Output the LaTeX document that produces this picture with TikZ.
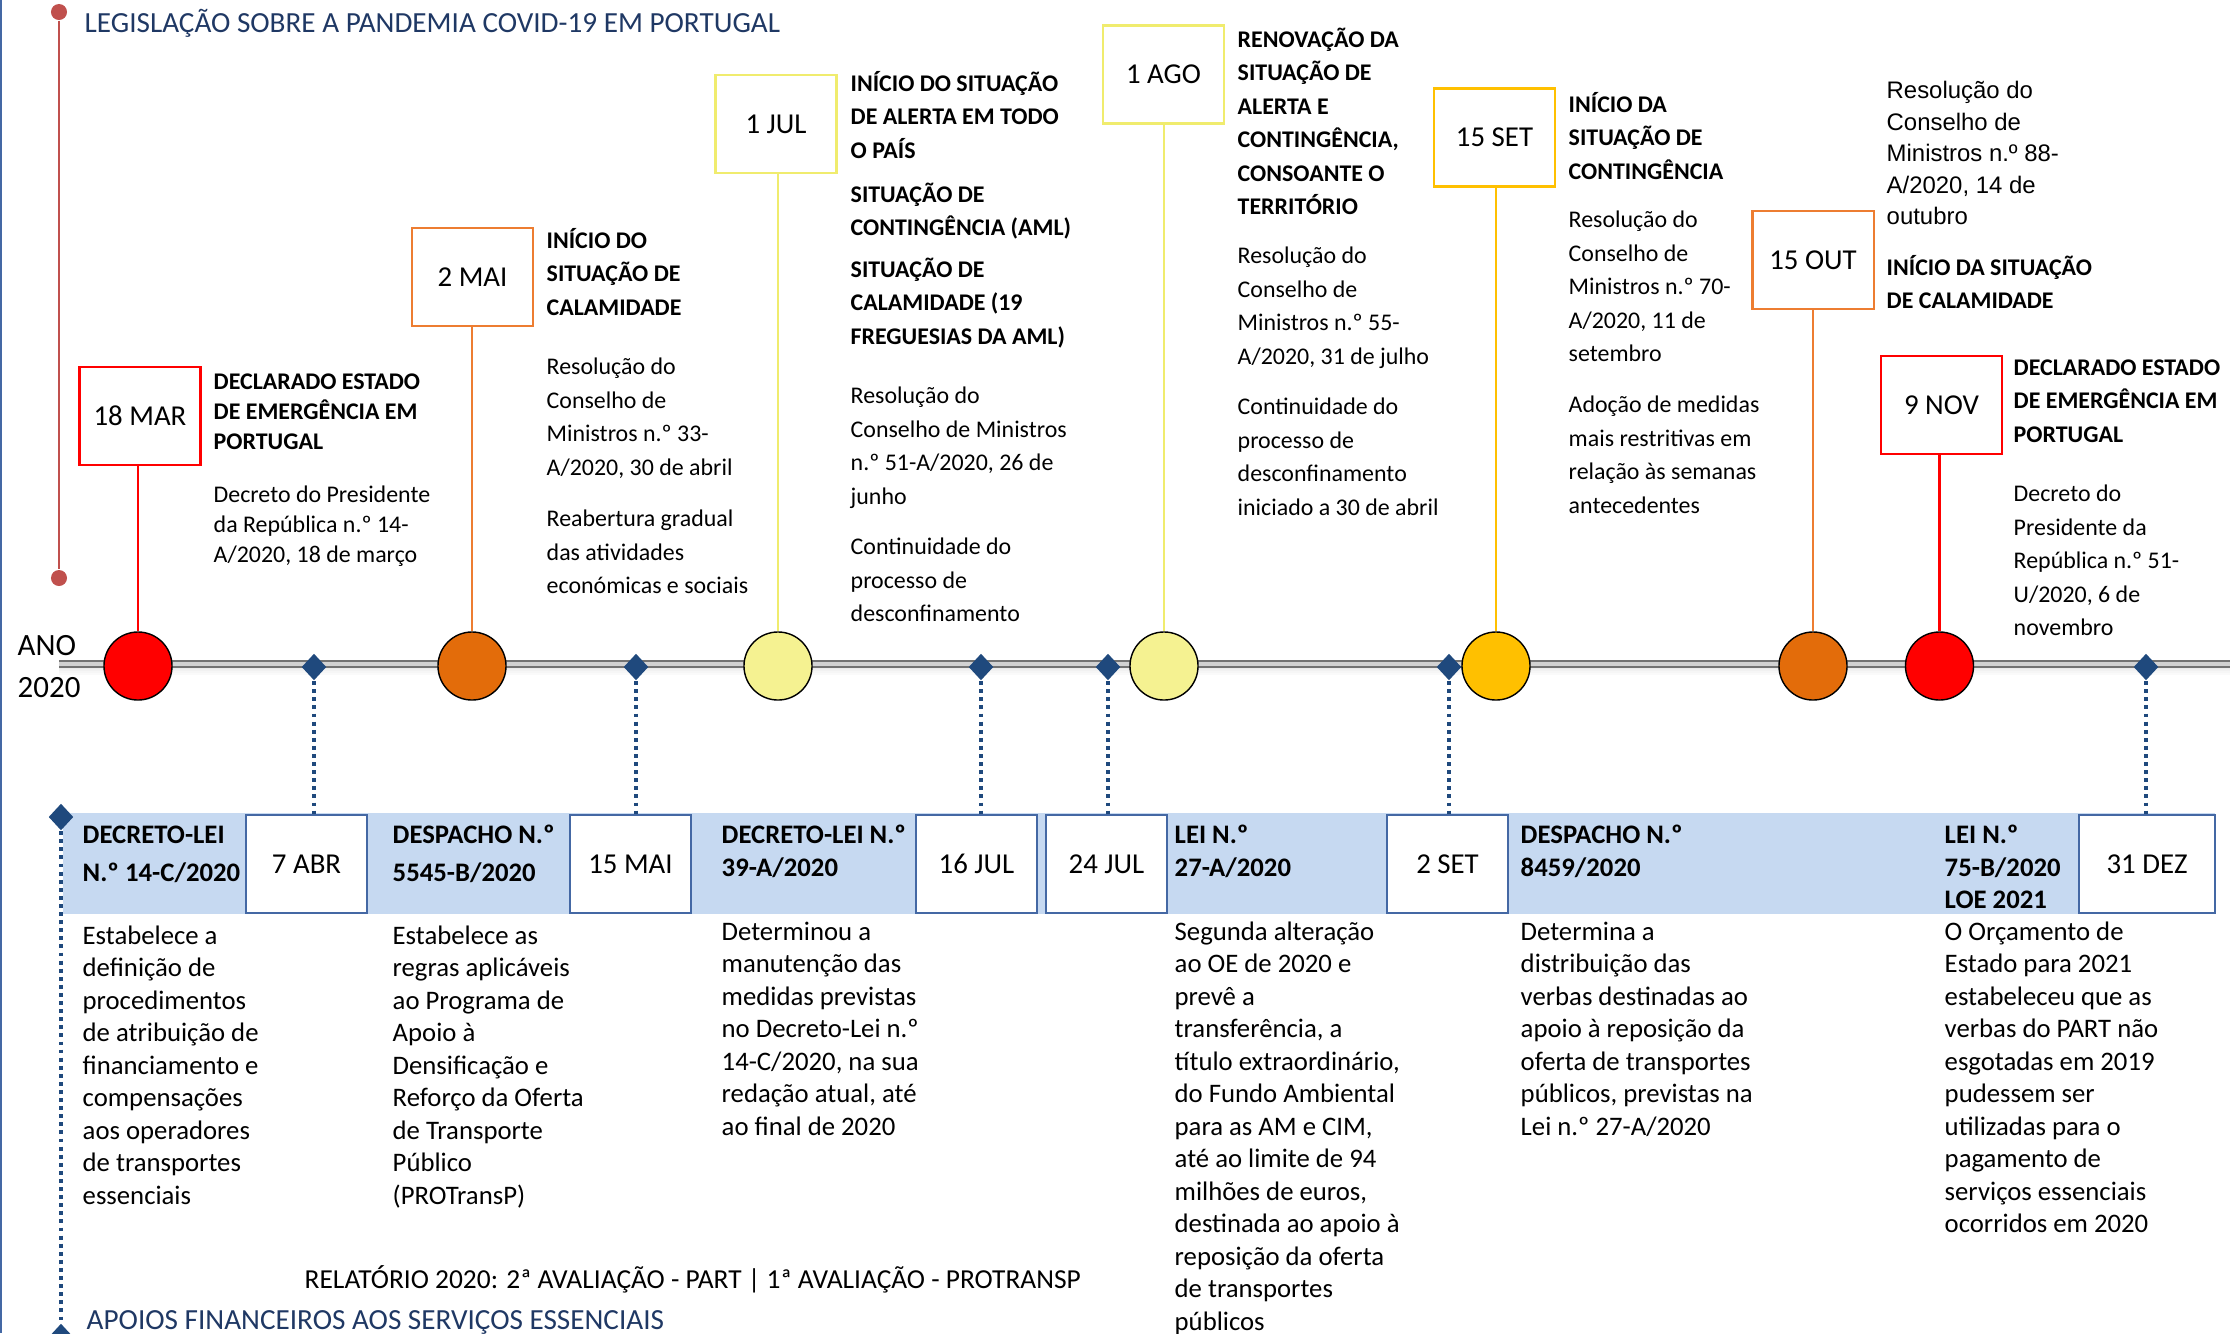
\documentclass[tikz,border=0pt]{standalone}
\usepackage{fontspec}
\setmainfont{Carlito}
\newfontfamily\arialfont{Liberation Sans}
\usetikzlibrary{shapes.geometric,shadows}

\definecolor{titleblue}{RGB}{31,56,100}
\definecolor{dblue}{RGB}{31,73,125}
\definecolor{bandblue}{RGB}{198,217,241}
\definecolor{boxblue}{RGB}{68,104,164}
\definecolor{lred}{RGB}{192,80,77}
\definecolor{cred}{RGB}{255,0,0}
\definecolor{corange}{RGB}{227,108,10}
\definecolor{borange}{RGB}{237,125,49}
\definecolor{cyellow}{RGB}{245,242,145}
\definecolor{byellow}{RGB}{240,236,110}
\definecolor{camber}{RGB}{255,192,0}

% linhas de texto com a base na primeira linha
\newcommand\textrows[1]{\vtop{\let\\\cr\halign{##\hfil\cr#1\crcr}}}

\begin{document}
\begin{tikzpicture}[x=0.01cm,y=-0.01cm,
        datebox/.style={draw=#1,fill=white,line width=0.6pt,minimum width=1.21cm,minimum height=0.98cm,inner sep=0pt,
            font=\fontsize{8.2}{9}\selectfont,drop shadow={shadow xshift=0.4pt,shadow yshift=-0.4pt,opacity=0.3,fill=black!40}},
        lowbox/.style={draw=boxblue,fill=white,line width=0.45pt,minimum width=1.21cm,minimum height=0.98cm,inner sep=0pt,
            font=\fontsize{8.2}{9}\selectfont},
        dot/.style={circle,draw=black,line width=0.4pt,fill=#1,minimum size=0.68cm,inner sep=0pt},
        lozenge/.style={diamond,fill=dblue,minimum width=0.25cm,minimum height=0.27cm,inner sep=0pt},
        hd/.style={anchor=base west,inner sep=0pt,font=\fontsize{6.8}{9.53}\selectfont\bfseries},
        tx/.style={anchor=base west,inner sep=0pt,font=\fontsize{6.8}{9.53}\selectfont},
        lhd/.style={anchor=base west,inner sep=0pt,font=\fontsize{7.6}{9.25}\selectfont\bfseries},
        ltx/.style={anchor=base west,inner sep=0pt,font=\fontsize{7.6}{9.25}\selectfont},
        dots/.style={draw=dblue,line width=1.1pt,dash pattern=on 1.1pt off 1.2pt}
    ]
    \useasboundingbox (0,0) rectangle (2230,1333);
    \draw[boxblue,line width=0.45pt] (0.8,0) -- (0.8,1333);

    % titulos
    \node[anchor=base west,inner sep=0pt,text=titleblue,font=\fontsize{8.3}{10}\selectfont] (title) at (84,32)
        {LEGISLAÇÃO SOBRE A PANDEMIA COVID-19 EM PORTUGAL};
    \node[anchor=base west,inner sep=0pt,text=titleblue,font=\fontsize{8.3}{10}\selectfont] (apoios) at (86,1329)
        {APOIOS FINANCEIROS AOS SERVIÇOS ESSENCIAIS};
    \node[anchor=base west,inner sep=0pt,font=\fontsize{7.8}{9}\selectfont] (relat) at (304,1288)
        {RELATÓRIO 2020: 2ª AVALIAÇÃO - PART | 1ª AVALIAÇÃO - PROTRANSP};
    \node[anchor=base west,inner sep=0pt,font=\fontsize{8.8}{12.2}\selectfont] (ano) at (17,655) {\textrows{ANO\\2020}};

    \node[circle,fill=lred,minimum size=0.16cm,inner sep=0pt] (rtop) at (59,12) {};
    \node[circle,fill=lred,minimum size=0.16cm,inner sep=0pt] (rbot) at (59,578) {};
    \draw[lred,line width=0.6pt] (rtop) -- (rbot);

    % eixo do tempo
    \coordinate (tl0) at (59,664);
    \coordinate (tl1) at (2230,664);
    \foreach \s/\o in {2/0.22,4/0.16,6/0.11,8/0.07,10/0.04}
        \draw[gray,opacity=\o,line width=0.6pt] (59,664+\s) -- (2230,664+\s);
    \draw[gray!90!black,line width=2.1pt] (tl0) -- (tl1);
    \draw[gray!35,line width=0.9pt] (tl0) -- (tl1);

    \fill[bandblue] (63,813) rectangle (2215,914);

    % datas de cima
    \node[datebox=cred] (t18mar) at (140,416) {18 MAR};
    \node[datebox=borange] (t2mai) at (472.5,277) {2 MAI};
    \node[datebox=byellow] (t1jul) at (776,124) {1 JUL};
    \node[datebox=byellow] (t1ago) at (1163.5,74.5) {1 AGO};
    \node[datebox=camber] (t15set) at (1494.5,137.5) {15 SET};
    \node[datebox=borange] (t15out) at (1813,260) {15 OUT};
    \node[datebox=cred] (t9nov) at (1941.5,405) {9 NOV};

    \node[dot=cred] (c18mar) at (138,666) {};
    \node[dot=corange] (c2mai) at (472,666) {};
    \node[dot=cyellow] (c1jul) at (778,666) {};
    \node[dot=cyellow] (c1ago) at (1164,666) {};
    \node[dot=camber] (c15set) at (1496,666) {};
    \node[dot=corange] (c15out) at (1813,666) {};
    \node[dot=cred] (c9nov) at (1939.5,666) {};

    \path[line width=0.6pt]
        (c18mar) edge[cred] (c18mar |- t18mar.south)
        (c2mai) edge[borange] (c2mai |- t2mai.south)
        (c1jul) edge[byellow] (c1jul |- t1jul.south)
        (c1ago) edge[byellow] (c1ago |- t1ago.south)
        (c15set) edge[camber] (c15set |- t15set.south)
        (c15out) edge[borange] (c15out |- t15out.south)
        (c9nov) edge[cred] (c9nov |- t9nov.south);

    % datas de baixo
    \node[lowbox] (b7abr) at (306.5,864) {7 ABR};
    \node[lowbox] (b15mai) at (630.5,864) {15 MAI};
    \node[lowbox] (b16jul) at (976.5,864) {16 JUL};
    \node[lowbox] (b24jul) at (1106.5,864) {24 JUL};
    \node[lowbox] (b2set) at (1447.5,864) {2 SET};
    \node[lowbox,minimum width=1.36cm] (b31dez) at (2147,864) {31 DEZ};

    \node[lozenge] (d7abr) at (314,667) {};
    \node[lozenge] (d15mai) at (636,667) {};
    \node[lozenge] (d16jul) at (981,667) {};
    \node[lozenge] (d24jul) at (1108,667) {};
    \node[lozenge] (d2set) at (1449,667) {};
    \node[lozenge] (d31dez) at (2146,667) {};
    \node[lozenge] (ltop) at (61,817) {};
    \node[lozenge] (lbot) at (61,1337) {};

    \path[dots]
        (d7abr) edge (d7abr |- b7abr.north)
        (d15mai) edge (d15mai |- b15mai.north)
        (d16jul) edge (d16jul |- b16jul.north)
        (d24jul) edge (d24jul |- b24jul.north)
        (d2set) edge (d2set |- b2set.north)
        (d31dez) edge (d31dez |- b31dez.north)
        (ltop) edge (lbot);

    % textos de cima
    \node[hd,font=\fontsize{6.8}{8.54}\selectfont\bfseries] (h18mar) at (213,389) {\textrows{DECLARADO ESTADO\\DE EMERGÊNCIA EM\\PORTUGAL}};
    \node[tx,font=\fontsize{6.8}{8.54}\selectfont] (x18mar) at (213,502.5) {\textrows{Decreto do Presidente\\da República n.º 14-\\A/2020, 18 de março}};
    \node[hd] (h2mai) at (546,248) {\textrows{INÍCIO DO\\SITUAÇÃO DE\\CALAMIDADE}};
    \node[tx] (x2mai) at (546,374.5) {\textrows{Resolução do\\Conselho de\\Ministros n.º 33-\\A/2020, 30 de abril}};
    \node[tx] (y2mai) at (546,526.5) {\textrows{Reabertura gradual\\das atividades\\económicas e sociais}};
    \node[hd] (h1jul) at (850,91) {\textrows{INÍCIO DO SITUAÇÃO\\DE ALERTA EM TODO\\O PAÍS}};
    \node[hd] (i1jul) at (850,202) {\textrows{SITUAÇÃO DE\\CONTINGÊNCIA (AML)}};
    \node[hd] (j1jul) at (850,277) {\textrows{SITUAÇÃO DE\\CALAMIDADE (19\\FREGUESIAS DA AML)}};
    \node[tx] (x1jul) at (850,403.5) {\textrows{Resolução do\\Conselho de Ministros\\n.º 51-A/2020, 26 de\\junho}};
    \node[tx] (y1jul) at (850,554.5) {\textrows{Continuidade do\\processo de\\desconfinamento}};
    \node[hd] (h1ago) at (1237,47) {\textrows{RENOVAÇÃO DA\\SITUAÇÃO DE\\ALERTA E\\CONTINGÊNCIA,\\CONSOANTE O\\TERRITÓRIO}};
    \node[tx] (x1ago) at (1237,263.5) {\textrows{Resolução do\\Conselho de\\Ministros n.º 55-\\A/2020, 31 de julho}};
    \node[tx] (y1ago) at (1237,414.5) {\textrows{Continuidade do\\processo de\\desconfinamento\\iniciado a 30 de abril}};
    \node[hd] (h15set) at (1568,112) {\textrows{INÍCIO DA\\SITUAÇÃO DE\\CONTINGÊNCIA}};
    \node[tx] (x15set) at (1568,227.5) {\textrows{Resolução do\\Conselho de\\Ministros n.º 70-\\A/2020, 11 de\\setembro}};
    \node[tx] (y15set) at (1568,412.5) {\textrows{Adoção de medidas\\mais restritivas em\\relação às semanas\\antecedentes}};
    \node[tx,font=\fontsize{6.8}{8.96}\arialfont] (x15out) at (1886,98.5) {\textrows{Resolução do\\Conselho de\\Ministros n.º 88-\\A/2020, 14 de\\outubro}};
    \node[hd] (h15out) at (1886,275) {\textrows{INÍCIO DA SITUAÇÃO\\DE CALAMIDADE}};
    \node[hd] (h9nov) at (2013,375) {\textrows{DECLARADO ESTADO\\DE EMERGÊNCIA EM\\PORTUGAL}};
    \node[tx] (x9nov) at (2013,501.5) {\textrows{Decreto do\\Presidente da\\República n.º 51-\\U/2020, 6 de\\novembro}};

    % textos de baixo
    \node[lhd,font=\fontsize{7.6}{10.67}\selectfont\bfseries] (hdl14) at (82,843.6) {\textrows{DECRETO-LEI\\N.º 14-C/2020}};
    \node[ltx] (xdl14) at (82,944) {\textrows{Estabelece a\\definição de\\procedimentos\\de atribuição de\\financiamento e\\compensações\\aos operadores\\de transportes\\essenciais}};
    \node[lhd,font=\fontsize{7.6}{10.67}\selectfont\bfseries] (hdp5545) at (392,843.6) {\textrows{DESPACHO N.º\\5545-B/2020}};
    \node[ltx] (xdp5545) at (392,944) {\textrows{Estabelece as\\regras aplicáveis\\ao Programa de\\Apoio à\\Densificação e\\Reforço da Oferta\\de Transporte\\Público\\(PROTransP)}};
    \node[lhd] (hdl39) at (721,843.6) {\textrows{DECRETO-LEI N.º\\39-A/2020}};
    \node[ltx] (xdl39) at (721,940) {\textrows{Determinou a\\manutenção das\\medidas previstas\\no Decreto-Lei n.º\\14-C/2020, na sua\\redação atual, até\\ao final de 2020}};
    \node[lhd] (hl27) at (1174,843.6) {\textrows{LEI N.º\\27-A/2020}};
    \node[ltx] (xl27) at (1174,940) {\textrows{Segunda alteração\\ao OE de 2020 e\\prevê a\\transferência, a\\título extraordinário,\\do Fundo Ambiental\\para as AM e CIM,\\até ao limite de 94\\milhões de euros,\\destinada ao apoio à\\reposição da oferta\\de transportes\\públicos}};
    \node[lhd] (hdp8459) at (1520,843.6) {\textrows{DESPACHO N.º\\8459/2020}};
    \node[ltx] (xdp8459) at (1520,940) {\textrows{Determina a\\distribuição das\\verbas destinadas ao\\apoio à reposição da\\oferta de transportes\\públicos, previstas na\\Lei n.º 27-A/2020}};
    \node[lhd] (hl75) at (1944,843.6) {\textrows{LEI N.º\\75-B/2020\\LOE 2021}};
    \node[ltx] (xl75) at (1944,940) {\textrows{O Orçamento de\\Estado para 2021\\estabeleceu que as\\verbas do PART não\\esgotadas em 2019\\pudessem ser\\utilizadas para o\\pagamento de\\serviços essenciais\\ocorridos em 2020}};
\end{tikzpicture}
\end{document}
